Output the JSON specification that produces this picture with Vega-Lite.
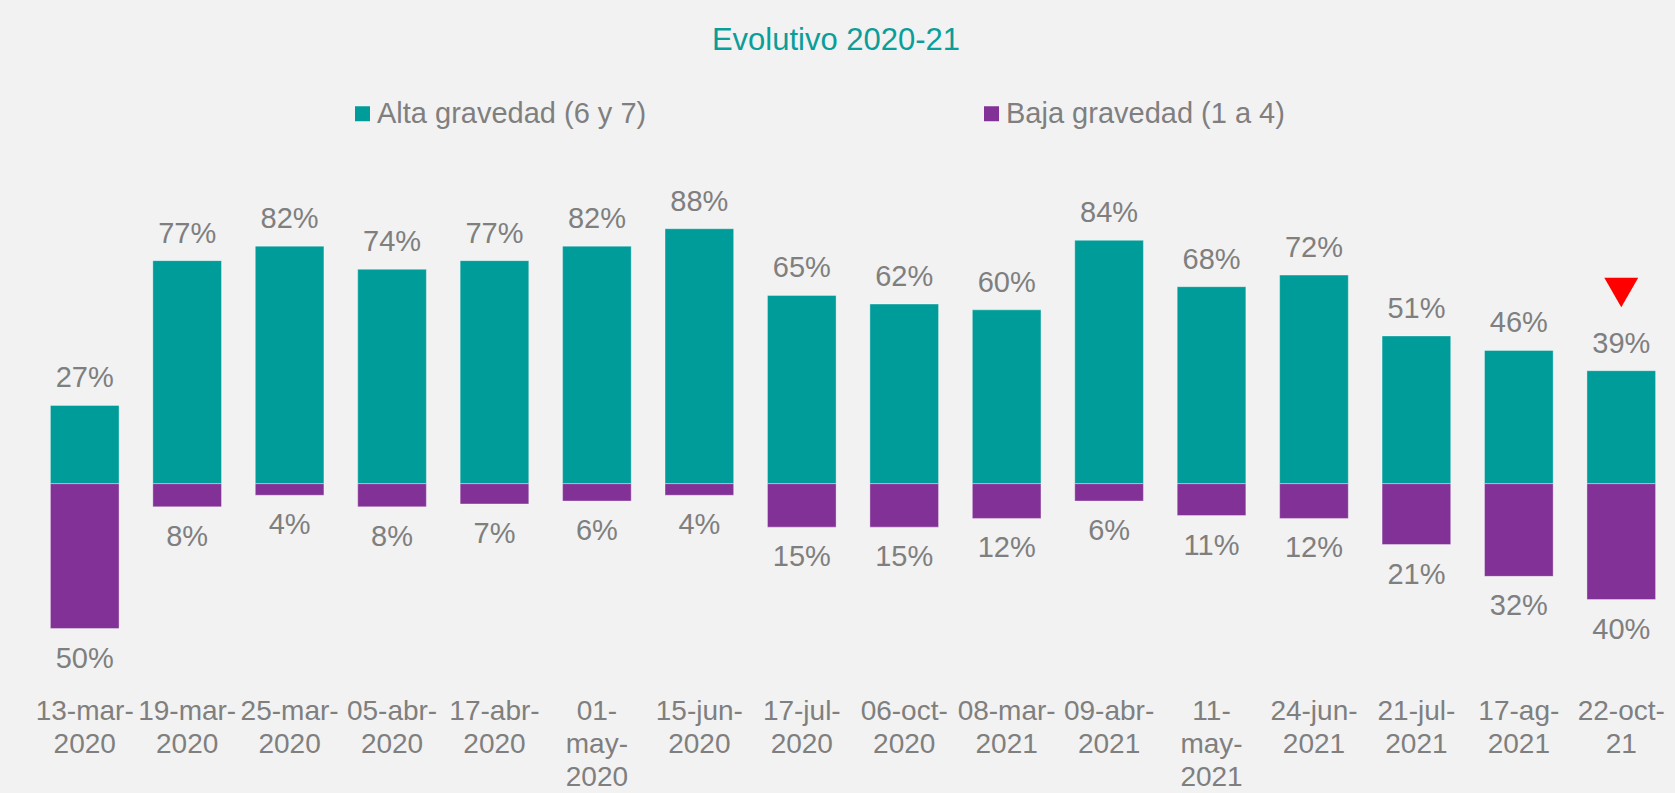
{
  "$schema": "https://vega.github.io/schema/vega-lite/v6.json",
  "autosize": {"type": "none"},
  "width": 1640,
  "height": 449,
  "padding": {"left": 33, "right": 2, "top": 194, "bottom": 150},
  "background": "#F2F2F2",
  "title": {
    "text": "Evolutivo 2020-21",
    "color": "#0A9E9A",
    "fontSize": 31,
    "font": "Liberation Sans",
    "fontWeight": "normal",
    "anchor": "middle",
    "frame": "group",
    "dx": -17,
    "offset": 42
  },
  "config": {
    "view": {"stroke": null},
    "font": "Liberation Sans"
  },
  "datasets": {
    "bars": [
      {"fecha": "13-mar-|2020", "serie": "Alta gravedad (6 y 7)", "v": 27},
      {"fecha": "19-mar-|2020", "serie": "Alta gravedad (6 y 7)", "v": 77},
      {"fecha": "25-mar-|2020", "serie": "Alta gravedad (6 y 7)", "v": 82},
      {"fecha": "05-abr-|2020", "serie": "Alta gravedad (6 y 7)", "v": 74},
      {"fecha": "17-abr-|2020", "serie": "Alta gravedad (6 y 7)", "v": 77},
      {"fecha": "01-|may-|2020", "serie": "Alta gravedad (6 y 7)", "v": 82},
      {"fecha": "15-jun-|2020", "serie": "Alta gravedad (6 y 7)", "v": 88},
      {"fecha": "17-jul-|2020", "serie": "Alta gravedad (6 y 7)", "v": 65},
      {"fecha": "06-oct-|2020", "serie": "Alta gravedad (6 y 7)", "v": 62},
      {"fecha": "08-mar-|2021", "serie": "Alta gravedad (6 y 7)", "v": 60},
      {"fecha": "09-abr-|2021", "serie": "Alta gravedad (6 y 7)", "v": 84},
      {"fecha": "11-|may-|2021", "serie": "Alta gravedad (6 y 7)", "v": 68},
      {"fecha": "24-jun-|2021", "serie": "Alta gravedad (6 y 7)", "v": 72},
      {"fecha": "21-jul-|2021", "serie": "Alta gravedad (6 y 7)", "v": 51},
      {"fecha": "17-ag-|2021", "serie": "Alta gravedad (6 y 7)", "v": 46},
      {"fecha": "22-oct-|21", "serie": "Alta gravedad (6 y 7)", "v": 39},
      {"fecha": "13-mar-|2020", "serie": "Baja gravedad (1 a 4)", "v": -50},
      {"fecha": "19-mar-|2020", "serie": "Baja gravedad (1 a 4)", "v": -8},
      {"fecha": "25-mar-|2020", "serie": "Baja gravedad (1 a 4)", "v": -4},
      {"fecha": "05-abr-|2020", "serie": "Baja gravedad (1 a 4)", "v": -8},
      {"fecha": "17-abr-|2020", "serie": "Baja gravedad (1 a 4)", "v": -7},
      {"fecha": "01-|may-|2020", "serie": "Baja gravedad (1 a 4)", "v": -6},
      {"fecha": "15-jun-|2020", "serie": "Baja gravedad (1 a 4)", "v": -4},
      {"fecha": "17-jul-|2020", "serie": "Baja gravedad (1 a 4)", "v": -15},
      {"fecha": "06-oct-|2020", "serie": "Baja gravedad (1 a 4)", "v": -15},
      {"fecha": "08-mar-|2021", "serie": "Baja gravedad (1 a 4)", "v": -12},
      {"fecha": "09-abr-|2021", "serie": "Baja gravedad (1 a 4)", "v": -6},
      {"fecha": "11-|may-|2021", "serie": "Baja gravedad (1 a 4)", "v": -11},
      {"fecha": "24-jun-|2021", "serie": "Baja gravedad (1 a 4)", "v": -12},
      {"fecha": "21-jul-|2021", "serie": "Baja gravedad (1 a 4)", "v": -21},
      {"fecha": "17-ag-|2021", "serie": "Baja gravedad (1 a 4)", "v": -32},
      {"fecha": "22-oct-|21", "serie": "Baja gravedad (1 a 4)", "v": -40}
    ],
    "marker": [
      {"fecha": "22-oct-|21", "y": 66}
    ]
  },
  "data": {"name": "bars"},
  "encoding": {
    "x": {
      "field": "fecha",
      "type": "nominal",
      "sort": null,
      "scale": {"paddingInner": 0.33, "paddingOuter": 0.17},
      "axis": {
        "title": null,
        "domain": false,
        "ticks": false,
        "labelAngle": 0,
        "labelExpr": "split(datum.value, '|')",
        "labelFont": "Liberation Sans",
        "labelFontSize": 28,
        "labelColor": "#7F7F7F",
        "labelPadding": 54,
        "labelLineHeight": 33,
        "labelBaseline": "top",
        "labelLimit": 0
      }
    }
  },
  "layer": [
    {
      "mark": {"type": "bar", "stroke": "#FFFFFF", "strokeOpacity": 0.35, "strokeWidth": 1},
      "encoding": {
        "y": {
          "field": "v",
          "type": "quantitative",
          "scale": {"domain": [-55, 100], "nice": false, "zero": false},
          "axis": null
        },
        "color": {
          "field": "serie",
          "type": "nominal",
          "scale": {
            "domain": ["Alta gravedad (6 y 7)", "Baja gravedad (1 a 4)"],
            "range": ["#009C99", "#823296"]
          },
          "legend": {
            "title": null,
            "orient": "none",
            "direction": "horizontal",
            "legendX": 315,
            "legendY": -95,
            "symbolType": "square",
            "symbolSize": 225,
            "symbolStrokeWidth": 0,
            "labelFont": "Liberation Sans",
            "labelFontSize": 29,
            "labelColor": "#7F7F7F",
            "labelOffset": 0,
            "columnPadding": 330,
            "labelLimit": 0
          }
        }
      }
    },
    {
      "mark": {"type": "rule", "color": "#808080", "strokeWidth": 3},
      "encoding": {"y": {"datum": 0, "type": "quantitative"}}
    },
    {
      "transform": [{"filter": "datum.v > 0"}],
      "mark": {
        "type": "text",
        "dy": -27,
        "baseline": "middle",
        "fontSize": 29,
        "color": "#7F7F7F",
        "text": {"expr": "abs(datum.v) + '%'"}
      },
      "encoding": {"y": {"field": "v", "type": "quantitative"}}
    },
    {
      "transform": [{"filter": "datum.v < 0"}],
      "mark": {
        "type": "text",
        "dy": 30,
        "baseline": "middle",
        "fontSize": 29,
        "color": "#7F7F7F",
        "text": {"expr": "abs(datum.v) + '%'"}
      },
      "encoding": {"y": {"field": "v", "type": "quantitative"}}
    },
    {
      "data": {"name": "marker"},
      "mark": {"type": "point", "shape": "triangle-down", "filled": true, "color": "#FF0000", "size": 1150, "opacity": 1},
      "encoding": {"y": {"field": "y", "type": "quantitative"}}
    }
  ]
}
